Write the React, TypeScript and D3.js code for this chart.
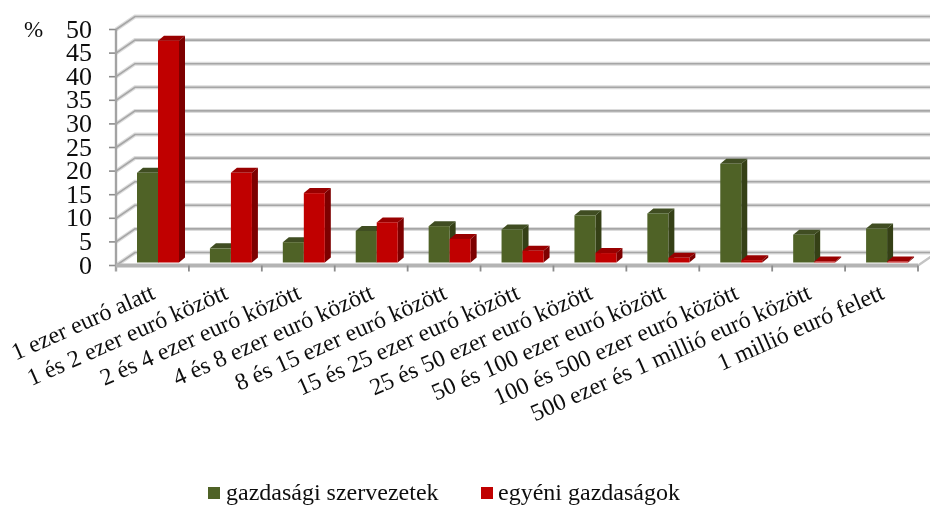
import React from 'react';
import * as d3 from 'd3';

const categories = [
  '1 ezer euró alatt',
  '1 és 2 ezer euró között',
  '2 és 4 ezer euró között',
  '4 és 8 ezer euró között',
  '8 és 15 ezer euró között',
  '15 és 25 ezer euró között',
  '25 és 50 ezer euró között',
  '50 és 100 ezer euró között',
  '100 és 500 ezer euró között',
  '500 ezer és 1 millió euró között',
  '1 millió euró felett',
];
const szervezetek = [19, 3, 4.3, 6.7, 7.7, 7, 10, 10.4, 20.9, 5.9, 7.2];
const egyeni = [47, 19, 14.7, 8.5, 5, 2.5, 2, 1, 0.5, 0.2, 0.2];
const yTicks = [0, 5, 10, 15, 20, 25, 30, 35, 40, 45, 50];

const width = 930;
const height = 505;
const serif = '"Liberation Serif", "Times New Roman", serif';

// 3D depth of the chart floor
const depthX = 19;
const depthY = 13;
const barDepthX = 6;
const barDepthY = 5;

const x = d3.scaleBand<number>().domain(d3.range(categories.length)).range([116, 918]);
const y = d3.scaleLinear().domain([0, 50]).range([265.5, 29.5]);

const Bar = ({ x0, w, value, front, side, top }: any) => {
  const base = y(0) - 3;
  const h = y(0) - y(value);
  const yt = base - h;
  const path = d3.path();
  path.moveTo(x0, yt);
  path.lineTo(x0 + barDepthX, yt - barDepthY);
  path.lineTo(x0 + w + barDepthX, yt - barDepthY);
  path.lineTo(x0 + w, yt);
  path.closePath();
  const sidePath = d3.path();
  sidePath.moveTo(x0 + w, yt);
  sidePath.lineTo(x0 + w + barDepthX, yt - barDepthY);
  sidePath.lineTo(x0 + w + barDepthX, base - barDepthY);
  sidePath.lineTo(x0 + w, base);
  sidePath.closePath();
  return (
    <g>
      <path d={path.toString()} fill={top} />
      <path d={sidePath.toString()} fill={side} />
      <rect x={x0} y={yt} width={w} height={h} fill={front} />
    </g>
  );
};

export default function App() {
  const step = x.bandwidth();
  const floorRight = x.range()[1];
  return (
    <svg
      width={width}
      height={height}
      viewBox={`0 0 ${width} ${height}`}
      style={{ position: 'absolute', left: 0, top: 0, background: '#fff' }}
    >
      <defs>
        <filter id="soft" x="0" y="0" width="100%" height="100%">
          <feGaussianBlur stdDeviation="0.6" />
        </filter>
      </defs>
      <g filter="url(#soft)">
        {/* gridlines and walls */}
        {yTicks.map((t) => (
          <g key={t} fill="none">
            <polyline
              stroke="#dcdcdc"
              strokeWidth={4}
              points={`${x.range()[0]},${y(t)} ${x.range()[0] + depthX},${y(t) - depthY} ${width},${y(t) - depthY}`}
            />
            <polyline
              stroke="#a6a6a6"
              strokeWidth={1.6}
              points={`${x.range()[0]},${y(t)} ${x.range()[0] + depthX},${y(t) - depthY} ${width},${y(t) - depthY}`}
            />
            <line stroke="#8c8c8c" strokeWidth={1.6} x1={x.range()[0] - 7} x2={x.range()[0]} y1={y(t)} y2={y(t)} />
          </g>
        ))}
        <line x1={116} x2={116} y1={y(50)} y2={y(0) + 6} stroke="#a3a3a3" strokeWidth={2.4} />
        <line x1={floorRight} y1={y(0)} x2={floorRight + depthX} y2={y(0) - depthY} stroke="#c4c4c4" strokeWidth={2.4} />
        <line x1={116} x2={floorRight} y1={y(0)} y2={y(0)} stroke="#b4b4b4" strokeWidth={4} />
        {x.domain().map((i) => (
          <line
            key={i}
            x1={(x(i) as number) + step}
            x2={(x(i) as number) + step}
            y1={y(0)}
            y2={y(0) + 6}
            stroke="#8c8c8c"
            strokeWidth={1.8}
          />
        ))}

        {/* bars */}
        {categories.map((c, i) => {
          const x0 = (x(i) as number) + 21;
          return (
            <g key={c}>
              <Bar x0={x0} w={21} value={szervezetek[i]} front="#4f6228" side="#344118" top="#3f4e20" />
              <Bar x0={x0 + 21} w={21} value={egyeni[i]} front="#c00000" side="#7d0000" top="#990000" />
            </g>
          );
        })}

        {/* y labels */}
        {yTicks.map((t) => (
          <text
            key={t}
            x={92}
            y={y(t) + 8}
            textAnchor="end"
            fontFamily={serif}
            fontSize={26}
            fill="#111"
          >
            {t}
          </text>
        ))}
        <text x={24} y={37} fontFamily={serif} fontSize={23} fill="#111">
          %
        </text>

        {/* category labels */}
        {categories.map((c, i) => (
          <text
            key={c}
            transform={`translate(${(x(i) as number) + step / 2 + 4},${298}) rotate(-24)`}
            textAnchor="end"
            fontFamily={serif}
            fontSize={24}
            fill="#111"
          >
            {c}
          </text>
        ))}

        {/* legend */}
        <rect x={208} y={487} width={12} height={12} fill="#4f6228" />
        <text x={226} y={499.5} fontFamily={serif} fontSize={24} fill="#111">
          gazdasági szervezetek
        </text>
        <rect x={481} y={487} width={12} height={12} fill="#c00000" />
        <text x={498} y={499.5} fontFamily={serif} fontSize={24} fill="#111">
          egyéni gazdaságok
        </text>
      </g>
    </svg>
  );
}
